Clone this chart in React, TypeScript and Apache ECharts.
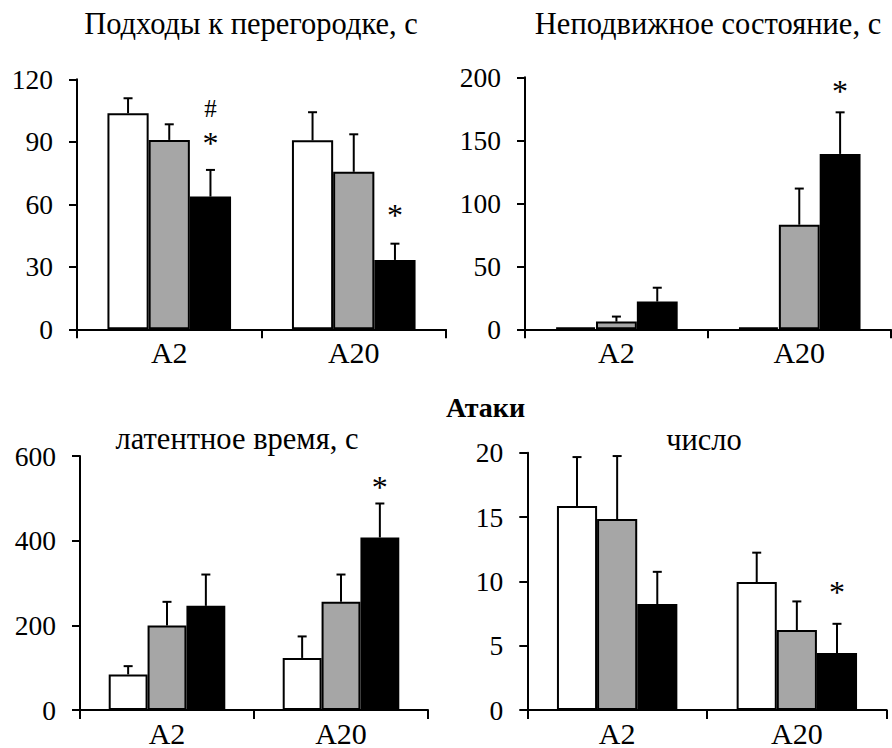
import React, { useEffect, useRef } from "react";
import * as echarts from "echarts";

const categories = ["A2", "A20"];

// Panel 1: Подходы к перегородке, с
const p1Title = "Подходы к перегородке, с";
const p1White = [103.7, 90.7];
const p1WhiteErr = [7.2, 13.5];
const p1Gray = [90.9, 75.6];
const p1GrayErr = [7.5, 18];
const p1Black = [63.7, 33.3];
const p1BlackErr = [12.8, 7.8];
const p1Ticks = { min: 0, max: 120, interval: 30 };

// Panel 2: Неподвижное состояние, с
const p2Title = "Неподвижное состояние, с";
const p2White = [1.5, 1.5];
const p2WhiteErr = [0, 0];
const p2Gray = [6.1, 83];
const p2GrayErr = [4, 28.7];
const p2Black = [22, 139.2];
const p2BlackErr = [11, 33];
const p2Ticks = { min: 0, max: 200, interval: 50 };

// Panel 3: латентное время, с
const p3Title = "латентное время, с";
const p3White = [84, 123];
const p3WhiteErr = [19.6, 50.8];
const p3Gray = [199.5, 255.5];
const p3GrayErr = [56, 64.5];
const p3Black = [246, 407.5];
const p3BlackErr = [74, 80.3];
const p3Ticks = { min: 0, max: 600, interval: 200 };

// Panel 4: число
const p4Title = "число";
const p4White = [15.86, 9.95];
const p4WhiteErr = [3.8, 2.28];
const p4Gray = [14.84, 6.22];
const p4GrayErr = [4.9, 2.22];
const p4Black = [8.24, 4.43];
const p4BlackErr = [2.5, 2.27];
const p4Ticks = { min: 0, max: 20, interval: 5 };

const sectionTitle = "Атаки";

// significance marks: [category index, bar index, y value, text]
const p1Marks: [number, number, number, string][] = [
  [0, 2, 106, "#"],
  [0, 2, 89.2, "*"],
  [1, 2, 54.7, "*"],
];
const p2Marks: [number, number, number, string][] = [[1, 2, 189.5, "*"]];
const p3Marks: [number, number, number, string][] = [[1, 2, 527, "*"]];
const p4Marks: [number, number, number, string][] = [[1, 2, 9.2, "*"]];

const barColors = ["#ffffff", "#a6a6a6", "#000000"];
const FONT = "Liberation Serif";
const GAP = 0.33;

const panels = [
  {
    title: p1Title, ticks: p1Ticks, marks: p1Marks,
    means: [p1White, p1Gray, p1Black], errs: [p1WhiteErr, p1GrayErr, p1BlackErr],
    grid: { left: 77, top: 79.3, width: 369, height: 250 },
    titlePos: [251, 24],
  },
  {
    title: p2Title, ticks: p2Ticks, marks: p2Marks,
    means: [p2White, p2Gray, p2Black], errs: [p2WhiteErr, p2GrayErr, p2BlackErr],
    grid: { left: 525, top: 77.3, width: 365.7, height: 252 },
    titlePos: [708, 24],
  },
  {
    title: p3Title, ticks: p3Ticks, marks: p3Marks,
    means: [p3White, p3Gray, p3Black], errs: [p3WhiteErr, p3GrayErr, p3BlackErr],
    grid: { left: 80, top: 456, width: 348, height: 256.7 },
    titlePos: [237, 439],
  },
  {
    title: p4Title, ticks: p4Ticks, marks: p4Marks,
    means: [p4White, p4Gray, p4Black], errs: [p4WhiteErr, p4GrayErr, p4BlackErr],
    grid: { left: 527.3, top: 452.7, width: 359.4, height: 260.6 },
    titlePos: [704, 440.3],
  },
];

export default function App() {
  const ref = useRef<HTMLDivElement>(null);
  useEffect(() => {
    if (!ref.current) return;
    const chart = echarts.init(ref.current, undefined, { renderer: "svg" });

    const grids: any[] = [];
    const xAxes: any[] = [];
    const yAxes: any[] = [];
    const series: any[] = [];
    const graphics: any[] = [];

    panels.forEach((p, pi) => {
      grids.push({ ...p.grid, containLabel: false });
      xAxes.push({
        type: "category",
        gridIndex: pi,
        data: categories,
        axisLine: { show: true, lineStyle: { color: "#000", width: 2 } },
        axisTick: { show: true, length: 9, lineStyle: { color: "#000", width: 2 } },
        axisLabel: { color: "#000", fontFamily: FONT, fontSize: 30, margin: 8 },
        splitLine: { show: false },
      });
      yAxes.push({
        type: "value",
        gridIndex: pi,
        min: p.ticks.min,
        max: p.ticks.max,
        interval: p.ticks.interval,
        axisLine: { show: true, lineStyle: { color: "#000", width: 2 } },
        axisTick: { show: true, length: 8, lineStyle: { color: "#000", width: 2 } },
        axisLabel: { color: "#000", fontFamily: FONT, fontSize: 27.5, margin: 24 },
        splitLine: { show: false },
      });
      p.means.forEach((m, gi) => {
        series.push({
          type: "bar",
          xAxisIndex: pi,
          yAxisIndex: pi,
          data: m,
          barGap: "0%",
          barCategoryGap: GAP * 100 + "%",
          itemStyle: { color: barColors[gi], borderColor: "#000", borderWidth: 2 },
          silent: true,
        });
      });
      const errData: number[][] = [];
      p.means.forEach((m, gi) => {
        m.forEach((v, ci) => errData.push([ci, v, p.errs[gi][ci], gi]));
      });
      series.push({
        type: "custom",
        xAxisIndex: pi,
        yAxisIndex: pi,
        data: errData,
        z: 5,
        silent: true,
        encode: { x: 0, y: 1 },
        renderItem: (params: any, api: any) => {
          const ci = api.value(0);
          const v = api.value(1);
          const e = api.value(2);
          const gi = api.value(3);
          if (!e) return null;
          const band = api.size([1, 0])[0];
          const bw = (band * (1 - GAP)) / 3;
          const base = api.coord([ci, v]);
          const top = api.coord([ci, v + e]);
          const x = base[0] + (gi - 1) * bw;
          const st = { stroke: "#000", lineWidth: 2 };
          return {
            type: "group",
            children: [
              { type: "line", shape: { x1: x, y1: base[1], x2: x, y2: top[1] }, style: st },
              { type: "line", shape: { x1: x - 4.5, y1: top[1], x2: x + 4.5, y2: top[1] }, style: st },
            ],
          };
        },
      });
      const marks = p.marks;
      series.push({
        type: "custom",
        xAxisIndex: pi,
        yAxisIndex: pi,
        data: marks.map((mk) => [mk[0], mk[2], mk[1]]),
        z: 6,
        silent: true,
        encode: { x: 0, y: 1 },
        renderItem: (params: any, api: any) => {
          const ci = api.value(0);
          const y = api.value(1);
          const gi = api.value(2);
          const band = api.size([1, 0])[0];
          const bw = (band * (1 - GAP)) / 3;
          const pt = api.coord([ci, y]);
          const txt = marks[params.dataIndex][3];
          return {
            type: "text",
            x: pt[0] + (gi - 1) * bw,
            y: pt[1],
            style: {
              text: txt,
              fill: "#000",
              fontFamily: FONT,
              fontSize: txt === "#" ? 25 : 32,
              textAlign: "center",
              textVerticalAlign: "middle",
            },
          };
        },
      });
      graphics.push({
        type: "text",
        x: p.titlePos[0],
        y: p.titlePos[1],
        style: {
          text: p.title,
          fill: "#000",
          fontFamily: FONT,
          fontSize: 30.5,
          textAlign: "center",
          textVerticalAlign: "middle",
        },
      });
    });

    graphics.push({
      type: "text",
      x: 485.5,
      y: 407.2,
      style: {
        text: sectionTitle,
        fill: "#000",
        fontFamily: FONT,
        fontSize: 28,
        fontWeight: "bold",
        textAlign: "center",
        textVerticalAlign: "middle",
      },
    });

    chart.setOption({
      animation: false,
      backgroundColor: "#fff",
      grid: grids,
      xAxis: xAxes,
      yAxis: yAxes,
      series,
      graphic: graphics,
    });
    return () => chart.dispose();
  }, []);
  return (
    <div
      ref={ref}
      style={{ position: "absolute", left: 0, top: 0, width: 892, height: 748 }}
    />
  );
}
